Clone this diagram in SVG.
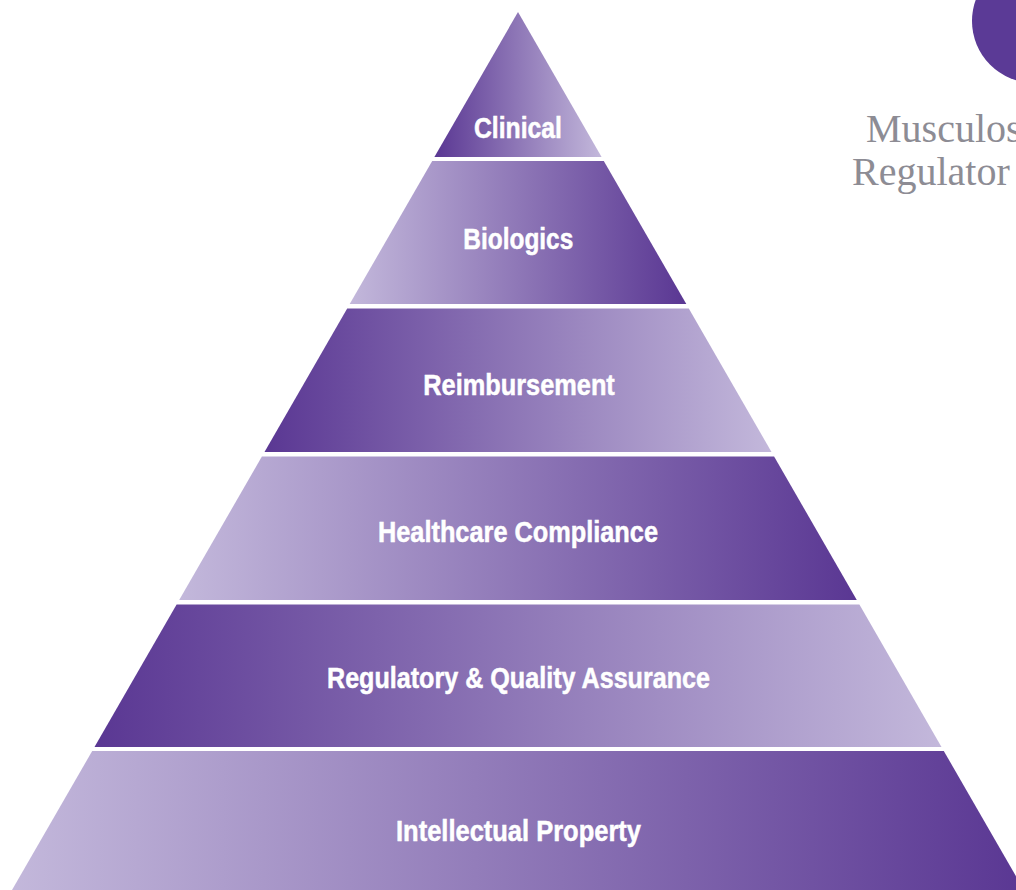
<svg xmlns="http://www.w3.org/2000/svg" width="1016" height="890" viewBox="0 0 1016 890">
  <defs>
    <!-- horizontal fades: dark-to-light and light-to-dark -->
    <linearGradient id="fadeDarkLeft" x1="0" y1="0" x2="1" y2="0">
      <stop offset="0" stop-color="#5a3793"/>
      <stop offset="1" stop-color="#c3b8db"/>
    </linearGradient>
    <linearGradient id="fadeLightLeft" x1="0" y1="0" x2="1" y2="0">
      <stop offset="0" stop-color="#c3b8db"/>
      <stop offset="1" stop-color="#5a3793"/>
    </linearGradient>
    <style>
      .tier-a { fill: url(#fadeDarkLeft); }
      .tier-b { fill: url(#fadeLightLeft); }
      .label { font-family: "Liberation Sans", Arial, sans-serif; font-weight: bold; font-size: 29px; fill: #ffffff; stroke: #ffffff; stroke-width: 0.5px; }
      .title { font-family: "Liberation Serif", "Times New Roman", serif; font-size: 40px; fill: #8d8c94; }
    </style>
  </defs>

  <rect width="1016" height="890" fill="#ffffff"/>

  <!-- corner badge -->
  <g id="badge">
    <circle cx="1034" cy="21" r="62" fill="#5b3a96"/>
    <text x="1008" y="56" font-family="'Liberation Serif', 'Times New Roman', serif" font-size="100" fill="#ffffff">1</text>
  </g>

  <!-- heading, running off the right edge -->
  <g id="heading">
    <text class="title" x="866" y="142">Musculos</text>
    <text class="title" x="852" y="185">Regulator</text>
  </g>

  <!-- pyramid tiers, top to bottom -->
  <g id="tier-clinical">
    <polygon class="tier-a" points="518,12 601.6,157 434.4,157"/>
    <text class="label" x="474" y="138" textLength="88" lengthAdjust="spacingAndGlyphs">Clinical</text>
  </g>

  <g id="tier-biologics">
    <polygon class="tier-b" points="432.2,161 603.8,161 686.3,304 349.7,304"/>
    <text class="label" x="463.3" y="248.5" textLength="110" lengthAdjust="spacingAndGlyphs">Biologics</text>
  </g>

  <g id="tier-reimbursement">
    <polygon class="tier-a" points="347.2,308.5 688.8,308.5 771.5,452 264.5,452"/>
    <text class="label" x="423.3" y="395" textLength="191.5" lengthAdjust="spacingAndGlyphs">Reimbursement</text>
  </g>

  <g id="tier-compliance">
    <polygon class="tier-b" points="261.9,456.5 774.1,456.5 856.8,600 179.2,600"/>
    <text class="label" x="378" y="542" textLength="280" lengthAdjust="spacingAndGlyphs">Healthcare Compliance</text>
  </g>

  <g id="tier-regulatory">
    <polygon class="tier-a" points="176.6,604.5 859.4,604.5 941.5,747 94.5,747"/>
    <text class="label" x="327" y="688" textLength="383" lengthAdjust="spacingAndGlyphs">Regulatory &amp; Quality Assurance</text>
  </g>

  <g id="tier-ip">
    <polygon class="tier-b" points="92.2,751 943.8,751 1024,890 12,890"/>
    <text class="label" x="396" y="841" textLength="245" lengthAdjust="spacingAndGlyphs">Intellectual Property</text>
  </g>

  <!-- no connectors in this figure -->
  <g id="connectors"/>
</svg>
